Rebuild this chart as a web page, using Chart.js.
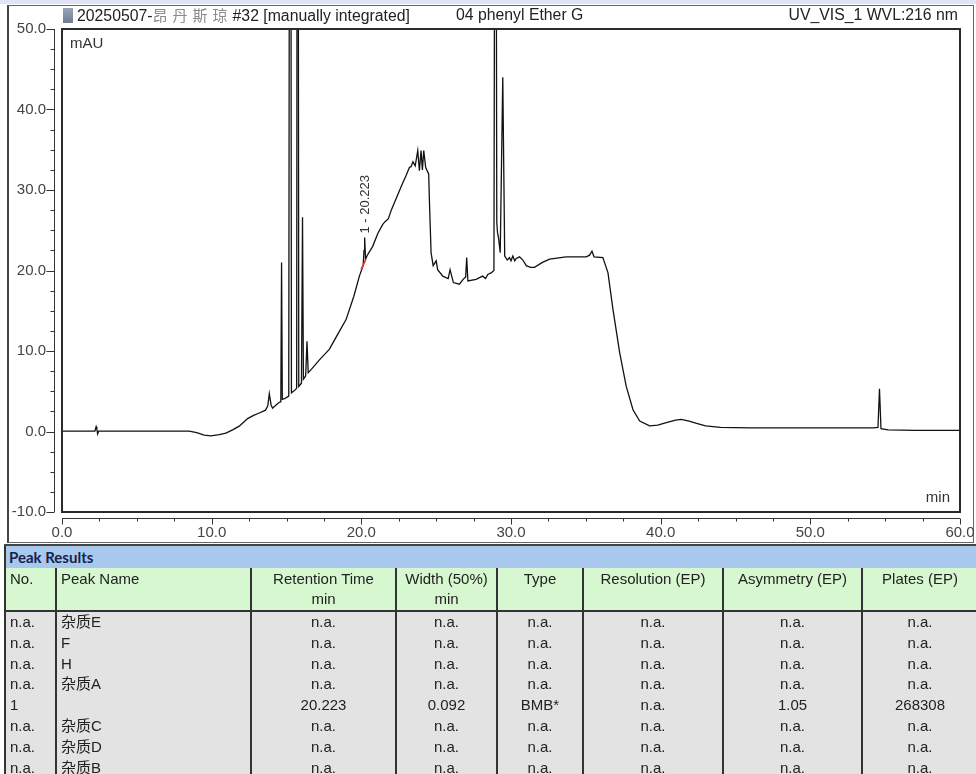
<!DOCTYPE html>
<html>
<head>
<meta charset="utf-8">
<script src="https://cdn.jsdelivr.net/npm/chart.js@4.4.1/dist/chart.umd.min.js"></script>
<style>
  body { margin: 0; width: 976px; height: 774px; overflow: hidden; background: #fff; position: relative;
         font-family: "Liberation Sans", Arial, "Noto Sans CJK SC", sans-serif; }
  #topband { position: absolute; left: 0; top: 0; width: 976px; height: 4px; background: #dfe4f6; }
  #frame { position: absolute; left: 7px; top: 5px; width: 964px; height: 536px;
           border: 1px solid #666; border-left: 2px solid #444; }
  #chart { position: absolute; left: 0; top: 0; }
  .title { position: absolute; top: 6px; font-size: 15.8px; line-height: 18px; color: #222; white-space: nowrap; }
  .title .cjk { color: #8a8a8a; font-family: "Noto Sans CJK SC", sans-serif; font-size: 15px; letter-spacing: 5px; }
  #icon { position: absolute; left: 63px; top: 8px; width: 10px; height: 15px;
          background: linear-gradient(#9aa6b8, #6e7b90); }
  #results { position: absolute; left: 4px; top: 544px; width: 972px; border-collapse: collapse;
             table-layout: fixed; font-size: 15px; color: #222; }
  #results td { padding: 0; white-space: nowrap; overflow: hidden; }
  #results .banner td { background: #a9c8ee; height: 22px; border-top: 2px solid #444;
                        border-left: 2px solid #333; font-family: Lato, "Open Sans", sans-serif;
                        font-weight: bold; color: #17224a; padding-left: 3px; font-size: 15px; }
  #results .head td { background: #d7f7d1; height: 41px; vertical-align: top; text-align: center;
                      border-left: 2px solid #333; border-bottom: 2px solid #333; line-height: 20px; padding-top: 1px; }
  #results .data td { background: #e3e3e3; height: 20.8px; line-height: 20.8px; text-align: center;
                      border-left: 2px solid #333; }
  #results td.left { text-align: left; padding-left: 4px; }
</style>
</head>
<body>
<div id="topband"></div>
<div id="frame"></div>
<canvas id="chart" width="976" height="545"></canvas>
<div id="icon"></div>
<div class="title" style="left:77px">20250507-<span class="cjk">昂丹斯琼</span>#32 [manually integrated]</div>
<div class="title" style="left:456px">04 phenyl Ether G</div>
<div class="title" style="right:18px">UV_VIS_1 WVL:216 nm</div>
<table id="results"></table>

<script>
// ---------------------------------------------------------------------------
// Chromatogram trace (time in min, signal in mAU)
// ---------------------------------------------------------------------------
const retentionMin = [
  0, 2.2, 2.28, 2.33, 2.38, 2.45, 5, 8.5, 9.0, 9.5, 9.95, 10.5, 10.95, 11.4, 11.84,
  12.17, 12.4, 12.8, 13.18, 13.6, 13.75, 13.85, 13.97, 14.07, 14.3, 14.5, 14.62, 14.67, 14.72,
  14.9, 15.15, 15.25, 15.33, 15.6, 15.68, 15.74, 15.82, 16.0, 16.07, 16.13, 16.28, 16.37, 16.45,
  16.6, 17.2, 17.86, 18.4, 18.98, 19.5, 19.87, 20.12, 20.18, 20.223, 20.28, 20.4, 20.76,
  21.1, 21.42, 21.6, 21.8, 22.0, 22.32, 22.7, 22.99, 23.21, 23.32, 23.45, 23.6, 23.77, 23.88,
  23.99, 24.08, 24.17, 24.3, 24.5, 24.56, 24.66, 24.8, 25.0, 25.1, 25.44, 25.8, 25.93, 26.15,
  26.55, 26.8, 26.97, 27.04, 27.12, 27.67, 28.1, 28.3, 28.45, 28.67, 28.86, 28.96, 29.05,
  29.1, 29.17, 29.28, 29.45, 29.58, 29.75, 29.9, 30.0, 30.12, 30.25, 30.35, 30.57, 30.79,
  31.02, 31.3, 31.57, 32.1, 32.58, 33.69, 35.03, 35.25, 35.41, 35.55, 36.14, 36.48, 36.81,
  37.26, 37.7, 38.15, 38.6, 39.26, 39.8, 40.38, 41.0, 41.38, 41.9, 42.4, 43.0, 44.0, 46.0,
  50.0, 54.2, 54.52, 54.62, 54.72, 55.2, 57.0, 60.0
];
const signalMau = [
  0.05, 0.05, 0.6, 0.3, -0.3, 0.05, 0.05, 0.05, -0.15, -0.45, -0.55, -0.4, -0.2, 0.2, 0.66,
  1.2, 1.6, 2.0, 2.3, 2.65, 3.2, 4.7, 3.3, 2.9, 3.3, 3.6, 3.7, 21.0, 4.0,
  4.1, 4.4, 150, 4.8, 5.2, 5.4, 150, 5.6, 6.0, 26.6, 6.5, 6.9, 11.2, 7.3,
  7.6, 8.9, 10.2, 12.0, 13.9, 16.8, 19.3, 20.6, 22.5, 24.1, 21.4, 21.9, 23.0,
  24.6, 25.7, 26.1, 26.4, 27.5, 28.9, 30.6, 31.8, 32.8, 32.9, 33.5, 33.0, 34.9, 32.4,
  34.9, 32.5, 34.9, 32.8, 32.0, 28.0, 22.2, 20.6, 21.2, 20.1, 19.3, 19.0, 20.1, 18.5,
  18.3, 18.9, 19.2, 21.6, 18.7, 18.9, 19.3, 19.0, 19.5, 19.7, 20.0, 120, 26.0,
  24.7, 24.0, 22.2, 44.0, 21.8, 21.3, 21.6, 21.2, 21.8, 21.2, 21.5, 21.7, 21.3,
  20.6, 20.4, 20.4, 21.0, 21.4, 21.7, 21.7, 21.9, 22.4, 21.7, 21.6, 19.7, 15.2,
  9.8, 5.6, 2.7, 1.3, 0.7, 0.8, 1.1, 1.4, 1.5, 1.3, 1.0, 0.7, 0.5, 0.45,
  0.45, 0.45, 0.5, 5.3, 0.35, 0.2, 0.15, 0.15
];

// Integration baseline drawn in red under peak 1
const peak1BaseMin = [19.98, 20.31];
const peak1BaseMau = [20.1, 21.4];

// Labelled peak
const peakLabelTime = 20.223;
const peakLabelMau = 24.1;
const peakLabelText = '1 - 20.223';

// Axis ranges and tick step
const timeRange = [0, 60];
const signalRange = [-10, 50];
const tickStep = 2.5;
const labelEvery = 10;

// ---------------------------------------------------------------------------
// Peak results table
// ---------------------------------------------------------------------------
const tableHeader = [
  ['No.', ''], ['Peak Name', ''], ['Retention Time', 'min'], ['Width (50%)', 'min'],
  ['Type', ''], ['Resolution (EP)', ''], ['Asymmetry (EP)', ''], ['Plates (EP)', '']
];
const columnWidths = [51, 195, 145, 101, 86, 140, 139, 115];
const peakNo = ['n.a.', 'n.a.', 'n.a.', 'n.a.', '1', 'n.a.', 'n.a.', 'n.a.'];
const peakNames = ['杂质E', 'F', 'H', '杂质A', '', '杂质C', '杂质D', '杂质B'];
const retentionTimes = ['n.a.', 'n.a.', 'n.a.', 'n.a.', '20.223', 'n.a.', 'n.a.', 'n.a.'];
const peakWidths = ['n.a.', 'n.a.', 'n.a.', 'n.a.', '0.092', 'n.a.', 'n.a.', 'n.a.'];
const peakTypes = ['n.a.', 'n.a.', 'n.a.', 'n.a.', 'BMB*', 'n.a.', 'n.a.', 'n.a.'];
const resolutions = ['n.a.', 'n.a.', 'n.a.', 'n.a.', 'n.a.', 'n.a.', 'n.a.', 'n.a.'];
const asymmetries = ['n.a.', 'n.a.', 'n.a.', 'n.a.', '1.05', 'n.a.', 'n.a.', 'n.a.'];
const plates = ['n.a.', 'n.a.', 'n.a.', 'n.a.', '268308', 'n.a.', 'n.a.', 'n.a.'];

// ---------------------------------------------------------------------------
// Plot box, offset axes with major/minor ticks, in-plot labels
// ---------------------------------------------------------------------------
const chromatogramFrame = {
  id: 'chromatogramFrame',
  afterDraw(chart) {
    const { ctx, chartArea: a, scales: { x, y } } = chart;
    ctx.save();

    ctx.strokeStyle = '#2a2a2a';
    ctx.lineWidth = 2;
    ctx.strokeRect(a.left, a.top, a.right - a.left, a.bottom - a.top);

    const axisX = a.left - 7.5;
    const axisY = a.bottom + 6.5;
    ctx.strokeStyle = '#333';
    ctx.lineWidth = 1;
    ctx.beginPath();
    ctx.moveTo(axisX, a.top);
    ctx.lineTo(axisX, a.bottom);
    ctx.moveTo(a.left, axisY);
    ctx.lineTo(a.right, axisY);
    y.ticks.forEach(t => {
      const py = Math.round(y.getPixelForValue(t.value)) + 0.5;
      const len = t.value % labelEvery === 0 ? 8 : 4;
      ctx.moveTo(axisX - len, py);
      ctx.lineTo(axisX, py);
    });
    x.ticks.forEach(t => {
      const px = Math.round(x.getPixelForValue(t.value)) + 0.5;
      const len = t.value % labelEvery === 0 ? 6 : 3;
      ctx.moveTo(px, axisY);
      ctx.lineTo(px, axisY + len);
    });
    ctx.stroke();

    ctx.fillStyle = '#333';
    ctx.font = '15px "Liberation Sans", Arial, sans-serif';
    ctx.textBaseline = 'top';
    ctx.textAlign = 'left';
    ctx.fillText('mAU', a.left + 8, a.top + 7);
    ctx.textBaseline = 'bottom';
    ctx.textAlign = 'right';
    ctx.fillText('min', a.right - 10, a.bottom - 7);

    // Vertical peak label above the apex
    const px = x.getPixelForValue(peakLabelTime);
    const py = y.getPixelForValue(peakLabelMau);
    ctx.translate(px + 1, py - 4);
    ctx.rotate(-Math.PI / 2);
    ctx.font = '13px "Liberation Sans", Arial, sans-serif';
    ctx.textAlign = 'left';
    ctx.textBaseline = 'middle';
    ctx.fillText(peakLabelText, 0, 0);
    ctx.restore();
  }
};

const tickFont = { family: '"Liberation Sans", Arial, sans-serif', size: 15 };

new Chart(document.getElementById('chart'), {
  type: 'line',
  data: {
    datasets: [
      {
        data: peak1BaseMin.map((t, i) => ({ x: t, y: peak1BaseMau[i] })),
        borderColor: '#e8322a',
        borderWidth: 1.6,
        pointRadius: 0,
        order: 0
      },
      {
        data: retentionMin.map((t, i) => ({ x: t, y: signalMau[i] })),
        borderColor: '#111',
        borderWidth: 1.3,
        pointRadius: 0,
        tension: 0,
        order: 1
      }
    ]
  },
  options: {
    responsive: false,
    animation: false,
    layout: { padding: { left: 0, top: 29, right: 16, bottom: 0 } },
    plugins: { legend: { display: false }, tooltip: { enabled: false } },
    scales: {
      x: {
        type: 'linear',
        min: timeRange[0],
        max: timeRange[1],
        border: { display: false },
        grid: { display: false, drawTicks: false },
        ticks: {
          stepSize: tickStep,
          autoSkip: false,
          maxRotation: 0,
          padding: 12,
          color: '#444',
          font: tickFont,
          callback: v => (v % labelEvery === 0 ? v.toFixed(1) : '')
        },
        afterFit: scale => {
          scale.height = 33;
          // the last label may hang over the right edge, as in the original
          scale.paddingLeft = 0;
          scale.paddingRight = 0;
        }
      },
      y: {
        type: 'linear',
        min: signalRange[0],
        max: signalRange[1],
        border: { display: false },
        grid: { display: false, drawTicks: false },
        ticks: {
          stepSize: tickStep,
          autoSkip: false,
          padding: 16,
          color: '#444',
          font: tickFont,
          callback: v => (v % labelEvery === 0 ? v.toFixed(1) : '')
        },
        afterFit: scale => {
          scale.width = 62;
          scale.paddingTop = 0;
          scale.paddingBottom = 0;
        }
      }
    }
  },
  plugins: [chromatogramFrame]
});

// ---------------------------------------------------------------------------
// Build the results table
// ---------------------------------------------------------------------------
const table = document.getElementById('results');
const colgroup = document.createElement('colgroup');
columnWidths.forEach(w => {
  const col = document.createElement('col');
  col.style.width = w + 'px';
  colgroup.appendChild(col);
});
table.appendChild(colgroup);

const banner = table.insertRow();
banner.className = 'banner';
const bannerCell = banner.insertCell();
bannerCell.colSpan = tableHeader.length;
bannerCell.textContent = 'Peak Results';

const head = table.insertRow();
head.className = 'head';
tableHeader.forEach(([line1, line2], i) => {
  const td = head.insertCell();
  if (i < 2) td.className = 'left';
  td.innerHTML = line1 + (line2 ? '<br>' + line2 : '');
});

const rowColumns = [peakNo, peakNames, retentionTimes, peakWidths, peakTypes, resolutions, asymmetries, plates];
peakNo.forEach((_, r) => {
  const tr = table.insertRow();
  tr.className = 'data';
  rowColumns.forEach((col, i) => {
    const td = tr.insertCell();
    if (i < 2) td.className = 'left';
    td.textContent = col[r];
  });
});
</script>
</body>
</html>
